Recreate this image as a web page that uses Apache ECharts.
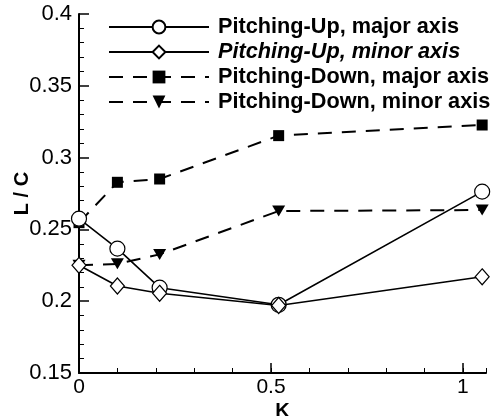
<!DOCTYPE html>
<html>
<head>
<meta charset="utf-8">
<script src="https://cdn.jsdelivr.net/npm/echarts@6/dist/echarts.min.js"></script>
<style>html,body{margin:0;padding:0;background:#fff}#c{width:496px;height:416px}</style>
</head>
<body>
<div id="c"></div>
<script>
var kValues = [0, 0.1, 0.21, 0.52, 1.05];
var upMajor = [0.2575, 0.2366, 0.2094, 0.1975, 0.2763];
var upMinor = [0.225, 0.2106, 0.2055, 0.197, 0.217];
var downMajor = [0.2547, 0.2828, 0.2851, 0.3153, 0.3227];
var downMinor = [0.225, 0.2260, 0.2326, 0.2628, 0.2635];
var seriesNames = ['Pitching-Up, major axis', 'Pitching-Up, minor axis', 'Pitching-Down, major axis', 'Pitching-Down, minor axis'];
var xMajorTicks = [0, 0.5, 1];

function pairs(ys) { return kValues.map(function (k, i) { return [k, ys[i]]; }); }

var font = 'Liberation Sans, Arial, Helvetica, sans-serif';
var chart = echarts.init(document.getElementById('c'));
var solid = { color: '#000', width: 1.6, type: 'solid' };
var dashed = { color: '#000', width: 2, type: [14, 10] };

chart.setOption({
  animation: false,
  backgroundColor: '#fff',
  grid: { left: 79, right: 10, top: 14, bottom: 43, containLabel: false, outerBoundsMode: 'none' },
  legend: {
    orient: 'vertical', left: 108, top: 16, padding: 0,
    itemWidth: 100, itemHeight: 16, itemGap: 3,
    textStyle: { fontFamily: font, fontSize: 21.7, fontWeight: 'bold', color: '#000', lineHeight: 22, padding: [0, 0, 0, 4] },
    data: [
      { name: seriesNames[0] },
      { name: seriesNames[1], textStyle: { fontStyle: 'italic' } },
      { name: seriesNames[2] },
      { name: seriesNames[3] }
    ]
  },
  xAxis: [{
    type: 'value', min: 0, max: 1.06, interval: 0.1, position: 'bottom',
    name: 'K', nameLocation: 'middle', nameGap: 28, nameMoveOverlap: false,
    nameTextStyle: { fontFamily: font, fontSize: 20, fontWeight: 'bold', color: '#000' },
    axisLine: { lineStyle: { color: '#000', width: 2 } },
    axisTick: { inside: true, length: 5, lineStyle: { color: '#000', width: 1 } },
    axisLabel: {
      fontFamily: font, fontSize: 21, color: '#000', margin: 4,
      formatter: function (v) {
        for (var i = 0; i < xMajorTicks.length; i++) { if (Math.abs(v - xMajorTicks[i]) < 1e-6) return String(xMajorTicks[i]); }
        return '';
      }
    },
    splitLine: { show: false }
  }, {
    type: 'value', min: 0, max: 1.06, position: 'bottom', offset: 0,
    axisLine: { show: false },
    axisTick: { inside: true, length: 10, customValues: xMajorTicks, lineStyle: { color: '#000', width: 1.5 } },
    axisLabel: { show: false },
    splitLine: { show: false }
  }],
  yAxis: {
    type: 'value', min: 0.15, max: 0.4, interval: 0.05,
    name: 'L / C', nameLocation: 'middle', nameGap: 47, nameRotate: 90, nameMoveOverlap: false,
    nameTextStyle: { fontFamily: font, fontSize: 20, fontWeight: 'bold', color: '#000' },
    axisLine: { lineStyle: { color: '#000', width: 2 } },
    axisTick: { inside: true, length: 10, lineStyle: { color: '#000', width: 1.5 } },
    minorTick: { show: true, splitNumber: 5, length: 5, lineStyle: { color: '#000', width: 1 } },
    axisLabel: { fontFamily: font, fontSize: 22, color: '#000', margin: 7,
      formatter: function (v) { return String(Math.round(v * 100) / 100); } },
    splitLine: { show: false }
  },
  series: [
    { name: seriesNames[0], type: 'line', data: pairs(upMajor), symbol: 'circle', symbolSize: 15,
      lineStyle: solid, itemStyle: { color: '#fff', borderColor: '#000', borderWidth: 1.2 }, z: 3 },
    { name: seriesNames[1], type: 'line', data: pairs(upMinor), symbol: 'diamond', symbolSize: [14, 16],
      lineStyle: solid, itemStyle: { color: '#fff', borderColor: '#000', borderWidth: 1.2 }, z: 4 },
    { name: seriesNames[2], type: 'line', data: pairs(downMajor), symbol: 'rect', symbolSize: 11,
      lineStyle: dashed, itemStyle: { color: '#000', borderColor: '#000', borderWidth: 0 }, z: 2 },
    { name: seriesNames[3], type: 'line', data: pairs(downMinor), symbol: 'triangle', symbolSize: [13, 11], symbolRotate: 180,
      lineStyle: dashed, itemStyle: { color: '#000', borderColor: '#000', borderWidth: 0 }, z: 2 }
  ]
});
</script>
</body>
</html>
